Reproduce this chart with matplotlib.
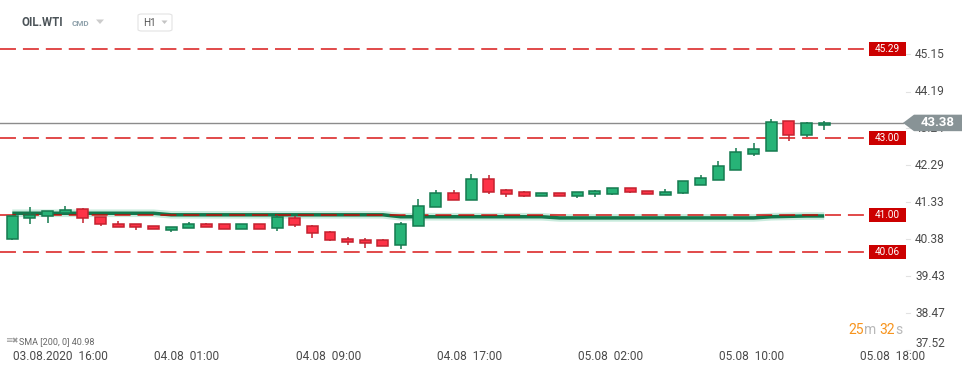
import numpy as np
import matplotlib.pyplot as plt
from matplotlib.patches import Rectangle, Polygon, FancyBboxPatch

plt.rcParams['font.family'] = ['Roboto', 'DejaVu Sans']
plt.rcParams['lines.scale_dashes'] = False

# hourly candles, 03.08 16:00 .. 05.08 16:00 (no 00:00 bar)
opens = [40.38, 40.94, 40.97, 41.05, 41.16, 40.95, 40.77, 40.77, 40.71, 40.61,
         40.66, 40.77, 40.77, 40.64, 40.77, 40.66, 40.93, 40.72, 40.57, 40.38,
         40.36, 40.36, 40.24, 40.73, 41.22, 41.57, 41.40, 41.93, 41.65, 41.60,
         41.50, 41.57, 41.50, 41.55, 41.55, 41.70, 41.62, 41.53, 41.58, 41.79,
         41.92, 42.17, 42.57, 42.66, 43.43, 43.07, 43.33]
highs = [40.99, 41.21, 41.11, 41.24, 41.19, 40.95, 40.85, 40.77, 40.71, 40.69,
         40.83, 40.80, 40.77, 40.77, 40.77, 41.00, 40.98, 40.75, 40.59, 40.44,
         40.41, 40.39, 40.83, 41.42, 41.65, 41.65, 42.06, 42.04, 41.68, 41.62,
         41.57, 41.57, 41.60, 41.66, 41.70, 41.70, 41.62, 41.68, 41.88, 42.04,
         42.40, 42.74, 42.86, 43.48, 43.43, 43.40, 43.43]
lows = [40.37, 40.78, 40.81, 41.05, 40.81, 40.72, 40.70, 40.63, 40.64, 40.56,
        40.66, 40.69, 40.64, 40.64, 40.64, 40.60, 40.70, 40.40, 40.34, 40.23,
        40.16, 40.21, 40.14, 40.73, 41.22, 41.40, 41.39, 41.55, 41.48, 41.48,
        41.50, 41.50, 41.45, 41.48, 41.52, 41.58, 41.55, 41.53, 41.55, 41.79,
        41.92, 42.17, 42.53, 42.66, 42.92, 43.02, 43.20]
closes = [40.98, 41.00, 41.11, 41.13, 40.92, 40.77, 40.70, 40.69, 40.64, 40.69,
          40.77, 40.69, 40.64, 40.77, 40.64, 40.95, 40.74, 40.55, 40.37, 40.32,
          40.29, 40.21, 40.77, 41.24, 41.57, 41.40, 41.93, 41.61, 41.55, 41.50,
          41.57, 41.50, 41.60, 41.62, 41.70, 41.61, 41.55, 41.60, 41.88, 41.96,
          42.27, 42.63, 42.71, 43.40, 43.07, 43.37, 43.38]
sma = [41.05] * 9 + [41.01] * 13 + [40.96] * 9 + [40.93] * 12 + [40.96, 40.97, 40.98, 40.98]

levels = [45.29, 43.00, 41.00, 40.06]
last_price = 43.38
yticks = [45.15, 44.19, 43.24, 42.29, 41.33, 40.38, 39.43, 38.47, 37.52]
xtick_pos = [0, 8, 16, 24, 32, 40, 48]
xtick_labels = ['03.08.2020  16:00', '04.08  01:00', '04.08  09:00', '04.08  17:00',
                '05.08  02:00', '05.08  10:00', '05.08  18:00']

W, H = 974, 375
STEP, X0 = 17.65, 12.3          # px per candle, px of first candle
PX_PER_UNIT = 38.77
Y_REF, P_REF = 54.3, 45.15


def fx(px):
    return px / W


def fy(py):
    return 1 - py / H


fig = plt.figure(figsize=(W / 100, H / 100), dpi=100)
ax = fig.add_axes([0, 0, 1, 1])
ax.axis('off')
ax.set_xlim(-X0 / STEP, (W - X0) / STEP)
ax.set_ylim(P_REF - (H - Y_REF) / PX_PER_UNIT, P_REF + Y_REF / PX_PER_UNIT)
ytr = ax.get_yaxis_transform()
xtr = ax.get_xaxis_transform()

green_f, green_e = '#27b377', '#157a4f'
red_f, red_e = '#fd3347', '#c4222f'

# sma line with soft halo
xs = np.arange(len(sma))
ax.plot(xs, sma, color='#2bb37a', lw=5.5, alpha=0.25, solid_capstyle='butt', zorder=2)
ax.plot(xs, sma, color='#13774c', lw=2.5, solid_capstyle='butt', zorder=2)

# dashed levels
for v in levels:
    ax.plot([0, fx(868)], [v, v], transform=ytr, color='#d40000', lw=1.1,
            dashes=(11.5, 5), alpha=0.9, zorder=3)
    h = 14 / PX_PER_UNIT
    ax.add_patch(Rectangle((fx(869), v - h / 2), fx(37), h, transform=ytr,
                           facecolor='#cc0000', edgecolor='none', zorder=5))
    ax.text(fx(887.5), v, f'{v:.2f}', transform=ytr, color='white', fontsize=7.2,
            ha='center', va='center', zorder=6)

# candles
w = 0.62
for i, (o, hi, lo, c) in enumerate(zip(opens, highs, lows, closes)):
    up = c >= o
    fc, ec = (green_f, green_e) if up else (red_f, red_e)
    ax.vlines(i, lo, hi, color=ec, lw=1.1, zorder=4)
    bot = min(o, c)
    ht = max(abs(c - o), 0.04)
    ax.add_patch(Rectangle((i - w / 2, bot), w, ht, facecolor=fc, edgecolor=ec,
                           lw=1.1, zorder=4))

# last price line and tag
ax.plot([0, fx(903)], [last_price, last_price], transform=ytr, color='#8c8c8c', lw=1, zorder=3)

# y axis labels
for t in yticks:
    va = 'bottom' if t == yticks[-1] else 'center'
    ax.text(fx(915), t, f'{t:.2f}', transform=ytr, color='#4a4a4a', fontsize=8.6,
            ha='left', va=va, zorder=6)
    ax.plot([fx(906), fx(910)], [t, t], transform=ytr, color='#e2e2e2', lw=0.8)

ht = 16.5 / PX_PER_UNIT
pts = [(fx(903), last_price), (fx(914), last_price + ht / 2), (fx(962), last_price + ht / 2),
       (fx(962), last_price - ht / 2), (fx(914), last_price - ht / 2)]
ax.add_patch(Polygon(pts, closed=True, transform=ytr, facecolor='#889396',
                     edgecolor='none', zorder=7))
ax.text(fx(938), last_price, f'{last_price:.2f}', transform=ytr, color='white',
        fontsize=9.5, fontweight='bold', ha='center', va='center', zorder=8)

# x axis labels
for p, lab in zip(xtick_pos, xtick_labels):
    ax.text(p + 0.05, fy(357), lab, transform=xtr, color='#4a4a4a', fontsize=8.6,
            ha='left', va='center')

# header
fig.text(fx(21), fy(22.5), 'OIL.WTI', color='#4b5358', fontsize=8.3, fontweight='bold',
         va='center', ha='left')
fig.text(fx(72), fy(23), 'CMD', color='#8fa1ab', fontsize=5.8, fontweight='bold',
         va='center', ha='left')
fig.patches.append(Polygon([(fx(96), fy(19.5)), (fx(104), fy(19.5)), (fx(100), fy(24))],
                           closed=True, transform=fig.transFigure, facecolor='#cccccc',
                           edgecolor='none'))
fig.patches.append(FancyBboxPatch((fx(138), fy(31)), fx(34), 17 / H,
                                  boxstyle='round,pad=0,rounding_size=0.004',
                                  transform=fig.transFigure, facecolor='white',
                                  edgecolor='#e3e3e3', lw=0.8))
fig.text(fx(143), fy(22.5), 'H1', color='#555555', fontsize=7.2, va='center', ha='left')
fig.patches.append(Polygon([(fx(161.5), fy(20.5)), (fx(167.5), fy(20.5)), (fx(164.5), fy(24))],
                           closed=True, transform=fig.transFigure, facecolor='#c4c4c4',
                           edgecolor='none'))

# indicator legend
fig.text(fx(5), fy(341), '≡', color='#9a9a9a', fontsize=6.5, va='center', ha='left')
fig.text(fx(11), fy(341), '✖', color='#9a9a9a', fontsize=5.5, va='center', ha='left')
fig.text(fx(19), fy(341.5), 'SMA [200, 0] 40.98', color='#666666', fontsize=6.5,
         va='center', ha='left')

# countdown
for x, s, col in [(848, '25', '#f7941d'), (864, 'm', '#b8b8b8'),
                  (879, '32', '#f7941d'), (895, 's', '#b8b8b8')]:
    fig.text(fx(x), fy(330), s, color=col, fontsize=10, va='center', ha='left')

fig.savefig('out.png', dpi=100)
